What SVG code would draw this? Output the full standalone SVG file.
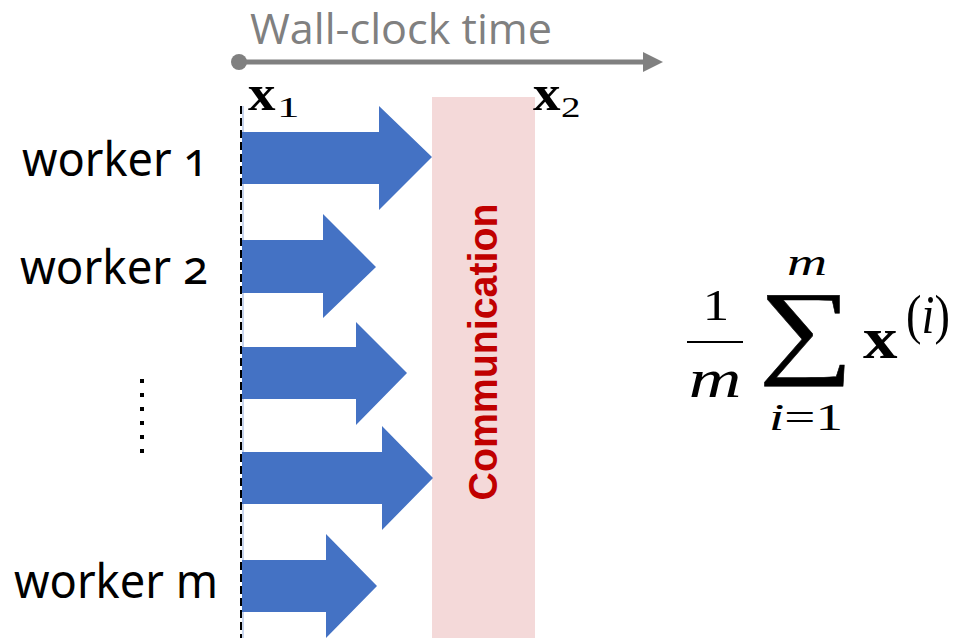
<svg xmlns="http://www.w3.org/2000/svg" width="961" height="638" viewBox="0 0 961 638">
<defs>
<style>
.lbl{font-family:"Noto Sans","Open Sans","Liberation Sans",sans-serif;font-size:48px;fill:#000;font-variant-numeric:oldstyle-nums}
.arr{fill:#4472C4}
.math{font-family:"Liberation Serif","DejaVu Serif",serif;fill:#000}
.it{font-style:italic}
.bd{font-weight:bold}
</style>
</defs>
<rect width="961" height="638" fill="#fff"/>
<g id="timeline">
<text x="250" y="44" font-family="Open Sans, Liberation Sans, sans-serif" font-size="42" fill="#808080" textLength="302" lengthAdjust="spacingAndGlyphs">Wall-clock time</text>
<circle cx="239" cy="62" r="8" fill="#808080"/>
<line x1="239" y1="62" x2="645" y2="62" stroke="#808080" stroke-width="5"/>
<polygon points="643,52 663,62 643,72" fill="#808080"/>
</g>
<g id="communication">
<rect x="432" y="97" width="103" height="541" fill="#F4D9D9"/>
<text transform="translate(497,352) rotate(-90)" text-anchor="middle" font-family="Liberation Sans, Arial, sans-serif" font-weight="bold" font-size="40" fill="#C00000" textLength="297" lengthAdjust="spacingAndGlyphs">Communication</text>
</g>
<g id="baseline">
<line x1="243" y1="106" x2="243" y2="638" stroke="#8FAADC" stroke-width="1"/>
<line x1="241" y1="106" x2="241" y2="638" stroke="#000" stroke-width="2" stroke-dasharray="8 4"/>
</g>
<g id="labels-x">
<text transform="translate(248,110) scale(1.1,1)" class="math bd" font-size="50">x</text>
<text transform="translate(277,117) scale(1.5,1)" class="math" font-size="30">1</text>
<text transform="translate(533,110) scale(1.1,1)" class="math bd" font-size="50">x</text>
<text transform="translate(561,117) scale(1.3,1)" class="math" font-size="30">2</text>
</g>
<g id="worker1">
<text x="22" y="176" class="lbl" textLength="186" lengthAdjust="spacingAndGlyphs">worker 1</text>
</g>
<g id="worker2">
<text x="20" y="284" class="lbl" textLength="188" lengthAdjust="spacingAndGlyphs">worker 2</text>
</g>
<g id="ellipsis">
<line x1="142" y1="379" x2="142" y2="455" stroke="#000" stroke-width="4" stroke-dasharray="4 10"/>
</g>
<g id="workerm">
<text x="14" y="598" class="lbl" textLength="204" lengthAdjust="spacingAndGlyphs">worker m</text>
</g>
<g id="connectors">
<polygon class="arr" points="242,132 379,132 379,106 432,157 379,210 379,184 242,184"/>
<polygon class="arr" points="242,240 323,240 323,214 376,267 323,318 323,293 242,293"/>
<polygon class="arr" points="242,347 356,347 356,322 407,373 356,425 356,399 242,399"/>
<polygon class="arr" points="242,452 382,452 382,426 433,478 382,530 382,504 242,504"/>
<polygon class="arr" points="242,560 326,560 326,534 377,586 326,638 326,612 242,612"/>
</g>
<g id="formula">
<text transform="translate(716,320) scale(1.2,1)" class="math" font-size="44" text-anchor="middle">1</text>
<line x1="687" y1="342" x2="743" y2="342" stroke="#000" stroke-width="2.2"/>
<text transform="translate(715,397) scale(1.35,1)" class="math it" font-size="54" text-anchor="middle">m</text>
<text transform="translate(807,275) scale(1.5,1)" class="math it" font-size="37" text-anchor="middle">m</text>
<text transform="translate(806,364) scale(1.27,1)" class="math" font-size="105" text-anchor="middle" stroke="#000" stroke-width="0.5">∑</text>
<text transform="translate(806,430) scale(1.45,1)" class="math" font-size="38" text-anchor="middle"><tspan class="it">i</tspan>=1</text>
<text transform="translate(863,358) scale(1.15,1)" class="math bd" font-size="60">x</text>
<text transform="translate(906,333) scale(0.86,1)" class="math" font-size="54">(<tspan class="it">i</tspan>)</text>
</g>
</svg>
